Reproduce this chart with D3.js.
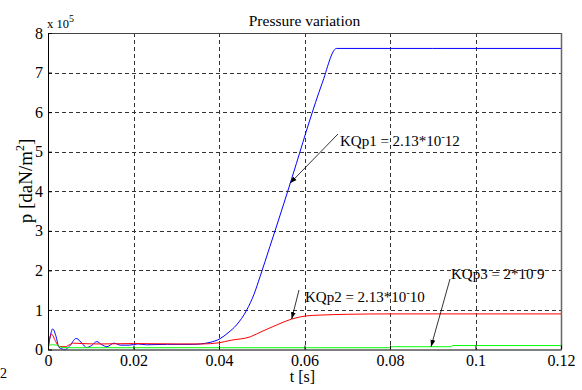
<!DOCTYPE html>
<html>
<head>
<meta charset="utf-8">
<script src="https://cdn.jsdelivr.net/npm/d3@7"></script>
<style>
  html, body { margin: 0; padding: 0; background: #fff; }
  svg { display: block; }
</style>
</head>
<body>
<svg id="chart" width="582" height="390"></svg>
<script>
// Pressure p (in units of 1e5 daN/m^2) against time t [s] for three flow coefficients.
const xTicks = [0, 0.02, 0.04, 0.06, 0.08, 0.1, 0.12];
const yTicks = [0, 1, 2, 3, 4, 5, 6, 7, 8];

// KQp1 = 2.13e-12
const kqp1 = [
  [0, 0], [0.0005, 0.32], [0.0011, 0.52], [0.0018, 0.36], [0.0026, 0.05], [0.004, 0.0],
  [0.005, 0.08], [0.0066, 0.28], [0.008, 0.15], [0.009, 0.05], [0.0102, 0.1], [0.0114, 0.2],
  [0.0126, 0.12], [0.0138, 0.07], [0.0154, 0.16], [0.017, 0.11], [0.019, 0.11], [0.021, 0.14],
  [0.023, 0.12], [0.028, 0.13], [0.034, 0.13], [0.0356, 0.14], [0.0379, 0.18], [0.0402, 0.27],
  [0.0421, 0.42], [0.0441, 0.62], [0.0465, 1.0], [0.0482, 1.4], [0.0496, 1.84], [0.0519, 2.6],
  [0.0552, 3.7], [0.0581, 4.7], [0.0611, 5.75], [0.0641, 6.72], [0.0675, 7.61],
  [0.09, 7.61], [0.12, 7.61]
];

// KQp2 = 2.13e-10
const kqp2 = [
  [0, 0], [0.0004, 0.28], [0.0008, 0.39], [0.0018, 0.2], [0.0026, 0.08], [0.004, 0.07],
  [0.005, 0.12], [0.006, 0.16], [0.008, 0.15], [0.012, 0.14], [0.02, 0.15], [0.03, 0.14],
  [0.036, 0.14], [0.04, 0.17], [0.0426, 0.23], [0.0473, 0.32], [0.0503, 0.47], [0.0535, 0.62],
  [0.057, 0.77], [0.0605, 0.85], [0.0636, 0.87], [0.07, 0.89], [0.08, 0.9], [0.12, 0.9]
];

// KQp3 = 2e-9
const kqp3 = [
  [0, 0.1], [0.001, 0.12], [0.002, 0.11], [0.003, 0.06], [0.004, 0.045], [0.08, 0.045],
  [0.0802, 0.07], [0.0944, 0.07], [0.0946, 0.1], [0.12, 0.1]
];

const series = [
  { data: kqp1, color: "#0000ff" },
  { data: kqp2, color: "#ff0000" },
  { data: kqp3, color: "#00ff00" }
];

const annotations = [
  { base: "KQp1 = 2.13*10", exp: "-", tail: "12", tx: 340, ty: 146, from: [338, 134], at: [0.0566, 4.2] },
  { base: "KQp2 = 2.13*10", exp: "-", tail: "10", tx: 305, ty: 302, from: [299, 290], at: [0.057, 0.77] },
  { base: "KQp3 = 2*10", exp: "-", tail: "9", tx: 451, ty: 279, from: [450, 279], at: [0.0896, 0.07] }
];

const FONT = "'Liberation Serif'";
const svg = d3.select("#chart");
const plotLeft = 48, plotRight = 561, plotTop = 33, plotBottom = 349.5;

const x = d3.scaleLinear().domain([0, 0.12]).range([plotLeft, plotRight]);
const y = d3.scaleLinear().domain([0, 8]).range([plotBottom, plotTop]);

// dashed grid
const grid = svg.append("g").attr("stroke", "#333").attr("stroke-dasharray", "4,3").attr("stroke-width", 1);
grid.selectAll("line.v").data(xTicks.slice(1, -1)).join("line").attr("class", "v")
  .attr("x1", d => Math.round(x(d)) + 0.5).attr("x2", d => Math.round(x(d)) + 0.5)
  .attr("y1", plotTop).attr("y2", plotBottom);
grid.selectAll("line.h").data(yTicks.slice(1, -1)).join("line").attr("class", "h")
  .attr("y1", d => Math.round(y(d)) + 0.5).attr("y2", d => Math.round(y(d)) + 0.5)
  .attr("x1", plotLeft).attr("x2", plotRight);

// curves
svg.append("clipPath").attr("id", "plot-clip").append("rect")
  .attr("x", plotLeft).attr("y", plotTop).attr("width", plotRight - plotLeft).attr("height", plotBottom - plotTop);

const line = d3.line().x(d => x(d[0])).y(d => y(d[1])).curve(d3.curveMonotoneX);
svg.append("g").attr("clip-path", "url(#plot-clip)")
  .selectAll("path").data(series).join("path")
  .attr("d", d => line(d.data))
  .attr("fill", "none")
  .attr("stroke", d => d.color)
  .attr("stroke-width", 1);

// frame (top and right edges)
svg.append("line").attr("x1", plotLeft).attr("x2", plotRight + 0.5).attr("y1", plotTop + 0.5).attr("y2", plotTop + 0.5)
  .attr("stroke", "#444");
svg.append("line").attr("x1", plotRight + 0.5).attr("x2", plotRight + 0.5).attr("y1", plotTop).attr("y2", plotBottom)
  .attr("stroke", "#666").attr("stroke-width", 1.5);

// axes
const fmt = d3.format("~g");
const xAxis = svg.append("g").attr("transform", `translate(0,${plotBottom})`)
  .call(d3.axisBottom(x).tickValues(xTicks).tickFormat(fmt).tickSizeInner(-4).tickSizeOuter(0).tickPadding(5));
const yAxis = svg.append("g").attr("transform", `translate(${plotLeft},0)`)
  .call(d3.axisLeft(y).tickValues(yTicks).tickFormat(fmt).tickSizeInner(-4).tickSizeOuter(0).tickPadding(5));
[xAxis, yAxis].forEach(g => {
  g.attr("font-family", null).attr("font-size", null);
  g.selectAll("text").attr("fill", "#000").style("font-family", FONT).style("font-size", "16px");
  g.select(".domain").attr("stroke", "#000");
});

function label(xp, yp, size) {
  return svg.append("text").attr("x", xp).attr("y", yp).attr("fill", "#000")
    .style("font-family", FONT).style("font-size", size + "px");
}

// exponent above the y axis
const expo = label(47, 28, 12.5);
expo.append("tspan").text("x 10");
expo.append("tspan").attr("dy", -6).style("font-size", "10px").text("5");

// title and axis labels
label((plotLeft + plotRight) / 2, 26, 15.5).attr("text-anchor", "middle").text("Pressure variation");
label((plotLeft + plotRight) / 2 - 2, 382, 16).attr("text-anchor", "middle").text("t [s]");
const yl = label(0, 0, 19).attr("transform", "translate(32,181) rotate(-90)").attr("text-anchor", "middle");
yl.append("tspan").text("p [daN/m");
yl.append("tspan").attr("dy", -8).style("font-size", "12px").text("2");
yl.append("tspan").attr("dy", 8).text("]");

// small glyph at the lower-left corner
label(0, 378, 14).text("2");

// annotations with arrows
const defs = svg.append("defs");
defs.append("marker").attr("id", "arrow").attr("viewBox", "0 0 10 10")
  .attr("refX", 10).attr("refY", 5).attr("markerWidth", 7).attr("markerHeight", 7)
  .attr("markerUnits", "userSpaceOnUse").attr("orient", "auto")
  .append("path").attr("d", "M0,1.5 L10,5 L0,8.5 Z").attr("fill", "#000");

annotations.forEach(a => {
  svg.append("line")
    .attr("x1", a.from[0]).attr("y1", a.from[1])
    .attr("x2", x(a.at[0])).attr("y2", y(a.at[1]))
    .attr("stroke", "#000").attr("stroke-width", 0.8)
    .attr("marker-end", "url(#arrow)");
  const t = label(a.tx, a.ty, 15);
  t.append("tspan").text(a.base);
  t.append("tspan").attr("dy", -6).style("font-size", "10px").text(a.exp);
  t.append("tspan").attr("dy", 6).text(a.tail);
});
</script>
</body>
</html>
